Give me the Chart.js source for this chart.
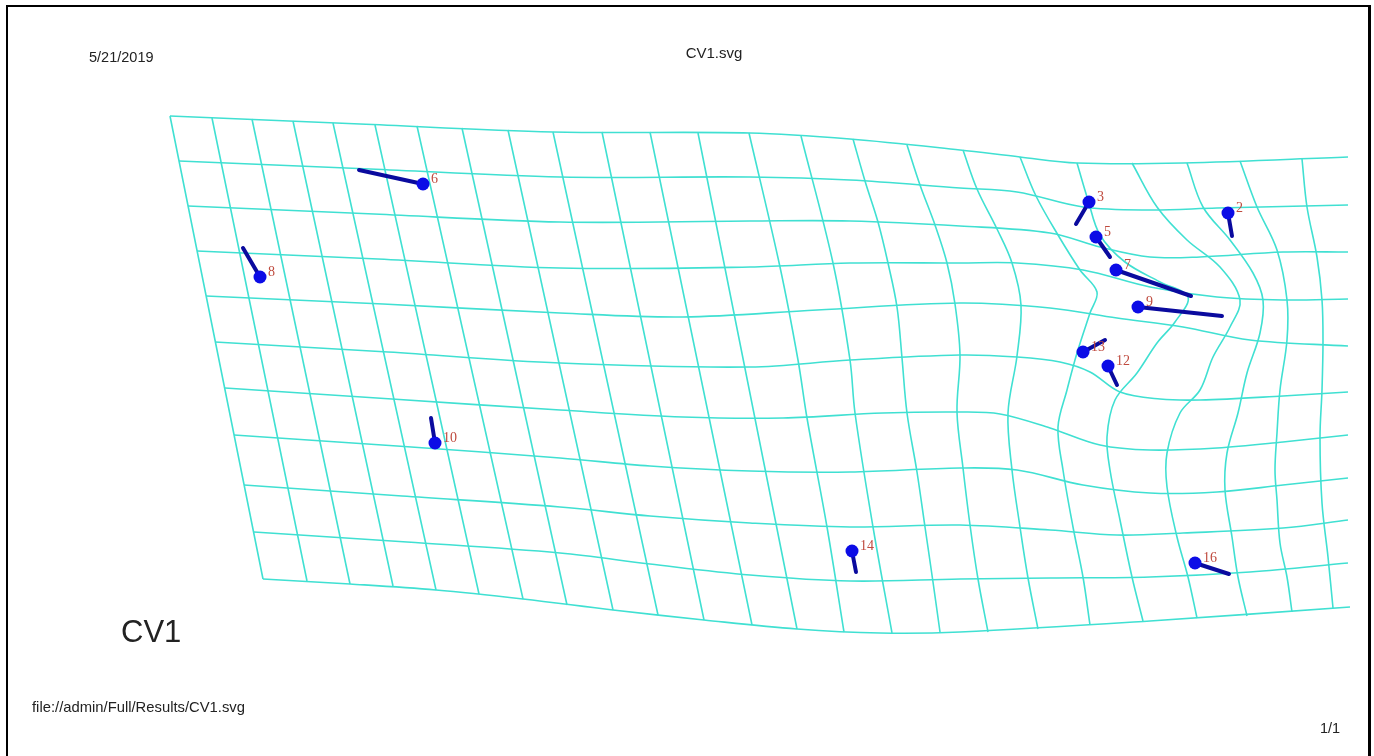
<!DOCTYPE html>
<html>
<head>
<meta charset="utf-8">
<title>CV1</title>
<script src="https://cdn.jsdelivr.net/npm/chart.js@4.4.1/dist/chart.umd.min.js"></script>
<style>
  html, body { margin: 0; padding: 0; background: #fff; overflow: hidden; }
  #page { position: absolute; left: 0; top: 0; width: 1374px; height: 756px; }
  #plot { position: absolute; left: 0; top: 0; }
  #frame {
    position: absolute; left: 6px; top: 5px; width: 1365px; height: 800px;
    border-left: 2px solid #000; border-top: 2px solid #000; border-right: 3px solid #000;
    box-sizing: border-box; pointer-events: none;
  }
  .txt {
    position: absolute; font-family: "Liberation Sans", Arial, sans-serif;
    color: #222; white-space: nowrap; line-height: 1;
  }
</style>
</head>
<body>
<div id="page">
  <canvas id="plot" width="1374" height="756"></canvas>
  <div id="frame"></div>
  <div class="txt" style="left:89px; top:50px; font-size:14.5px;">5/21/2019</div>
  <div class="txt" style="left:714px; top:45px; font-size:15px; transform:translateX(-50%);">CV1.svg</div>
  <div class="txt" style="left:121px; top:616px; font-size:31px;">CV1</div>
  <div class="txt" style="left:32px; top:700px; font-size:14.8px;">file://admin/Full/Results/CV1.svg</div>
  <div class="txt" style="left:1320px; top:721px; font-size:14.5px;">1/1</div>
</div>
<script>
// Deformation grid: horizontal lines, top to bottom, as [x, y] vertices
const gridRows = [
  [[170,116],[360,124],[553,132],[750,133],[850,139],[960,150],[1020,157],[1077,163],[1183,163],[1348,157]],
  [[179,161],[370,169],[560,177],[750,177],[850,180],[960,188],[1017,192],[1083,207],[1150,210],[1217,208],[1348,205]],
  [[188,206],[374,214],[560,222],[750,221],[850,221],[960,226],[1050,233],[1100,247],[1150,257],[1200,257],[1283,252],[1348,252]],
  [[197,251],[378,259],[560,268],[750,267],[850,263],[960,263],[1017,263],[1083,270],[1150,287],[1217,297],[1283,300],[1348,299]],
  [[206,296],[383,304],[560,313],[683,317],[817,310],[960,303],[1050,308],[1117,318],[1183,327],[1250,340],[1348,346]],
  [[215,342],[388,352],[560,363],[750,367],[850,360],[960,355],[1017,357],[1060,362],[1090,372],[1120,392],[1160,399],[1200,400],[1283,396],[1348,392]],
  [[225,388],[392,399],[560,410],[683,417],[783,418],[883,413],[960,412],[1000,414],[1050,428],[1100,445],[1150,450],[1217,448],[1283,442],[1348,435]],
  [[234,435],[397,446],[560,458],[650,466],[750,471],[850,472],[960,468],[1017,470],[1083,485],[1150,493],[1217,492],[1283,485],[1348,478]],
  [[244,485],[402,496],[560,507],[650,516],[750,523],[850,527],[960,525],[1050,530],[1117,535],[1183,533],[1283,528],[1348,520]],
  [[254,532],[407,542],[560,553],[650,564],[750,575],[850,581],[960,579],[1050,578],[1150,577],[1250,572],[1348,563]],
  [[263,579],[350,584],[436,590],[523,599],[613,610],[704,620],[797,629],[880,633],[960,632],[1150,621],[1350,607]]
];

// Deformation grid: vertical lines, left to right, as [x, y] vertices
const gridCols = [
  [[170,116],[263,579]],
  [[212,118],[307,581]],
  [[252,119],[350,584]],
  [[293,121],[393,586]],
  [[333,123],[436,590]],
  [[375,125],[479,594]],
  [[417,126],[523,599]],
  [[462,128],[567,605]],
  [[508,130],[613,610]],
  [[553,132],[658,615]],
  [[602,132],[704,620]],
  [[650,132],[752,625]],
  [[698,133],[797,629]],
  [[749,133],[780,267],[798,360],[807,418],[827,527],[844,632]],
  [[801,136],[833,263],[850,360],[855,413],[873,527],[892,633]],
  [[853,139],[865,181],[878,222],[888,263],[897,307],[902,358],[907,413],[917,472],[925,527],[933,582],[940,632]],
  [[907,145],[920,185],[935,225],[947,263],[955,304],[960,355],[957,412],[963,468],[970,525],[978,579],[988,632]],
  [[963,150],[977,189],[997,229],[1012,263],[1021,305],[1017,356],[1008,413],[1012,470],[1020,527],[1028,578],[1038,629]],
  [[1020,157],[1036,196],[1058,235],[1080,270],[1097,292],[1090,313],[1077,353],[1067,390],[1058,427],[1063,470],[1073,527],[1083,577],[1090,625]],
  [[1077,163],[1088,200],[1100,235],[1125,262],[1160,282],[1188,297],[1175,322],[1157,343],[1137,373],[1115,400],[1107,437],[1110,470],[1120,520],[1132,577],[1143,621]],
  [[1132,163],[1157,207],[1187,240],[1220,267],[1240,300],[1230,327],[1213,357],[1200,390],[1180,413],[1167,453],[1167,487],[1177,537],[1188,577],[1197,618]],
  [[1187,163],[1203,207],[1230,240],[1253,273],[1263,300],[1260,333],[1247,373],[1238,413],[1227,453],[1225,490],[1232,537],[1238,577],[1247,616]],
  [[1240,161],[1257,207],[1277,250],[1287,300],[1287,340],[1280,390],[1277,433],[1275,470],[1277,500],[1280,543],[1287,577],[1292,612]],
  [[1302,159],[1307,207],[1317,257],[1322,300],[1323,340],[1322,390],[1320,437],[1322,503],[1328,557],[1333,608]]
];

// Landmarks: id, position, and end of the displacement vector
const landmarkIds = ['2','3','5','6','7','8','9','10','12','13','14','16'];
const landmarkX   = [1228,1089,1096, 423,1116, 260,1138, 435,1108,1083, 852,1195];
const landmarkY   = [ 213, 202, 237, 184, 270, 277, 307, 443, 366, 352, 551, 563];
const vectorEndX  = [1232,1076,1110, 359,1191, 243,1222, 431,1117,1105, 856,1229];
const vectorEndY  = [ 236, 224, 257, 170, 296, 248, 316, 418, 385, 340, 572, 574];

const GRID_COLOR = 'rgb(64,224,210)';
const VECTOR_COLOR = '#0a0a9e';
const DOT_COLOR = '#0c0ce6';
const LABEL_COLOR = '#bf4a3e';

const toPoints = line => line.map(([x, y]) => ({ x, y }));

const datasets = [];

// landmark dots (drawn on top)
datasets.push({
  data: landmarkX.map((x, i) => ({ x, y: landmarkY[i] })),
  showLine: false,
  pointRadius: 6.5,
  pointHoverRadius: 6.5,
  pointBackgroundColor: DOT_COLOR,
  pointBorderWidth: 0,
  order: 0
});

// displacement vectors
landmarkX.forEach((x, i) => {
  datasets.push({
    data: [{ x, y: landmarkY[i] }, { x: vectorEndX[i], y: vectorEndY[i] }],
    showLine: true,
    borderColor: VECTOR_COLOR,
    borderWidth: 4,
    borderCapStyle: 'round',
    pointRadius: 0,
    order: 1
  });
});

// grid lines
[...gridRows, ...gridCols].forEach(line => {
  datasets.push({
    data: toPoints(line),
    showLine: true,
    borderColor: GRID_COLOR,
    borderWidth: 1.6,
    tension: 0.35,
    pointRadius: 0,
    order: 2
  });
});

const landmarkLabels = {
  id: 'landmarkLabels',
  afterDatasetsDraw(chart) {
    const { ctx, scales } = chart;
    ctx.save();
    ctx.fillStyle = LABEL_COLOR;
    ctx.font = '14px "Liberation Serif", "DejaVu Serif", serif';
    ctx.textAlign = 'left';
    ctx.textBaseline = 'middle';
    landmarkIds.forEach((id, i) => {
      const px = scales.x.getPixelForValue(landmarkX[i]);
      const py = scales.y.getPixelForValue(landmarkY[i]);
      ctx.fillText(id, px + 8, py - 5);
    });
    ctx.restore();
  }
};

new Chart(document.getElementById('plot'), {
  type: 'scatter',
  data: { datasets },
  options: {
    responsive: false,
    animation: false,
    devicePixelRatio: 1,
    layout: { padding: 0, autoPadding: false },
    plugins: { legend: { display: false }, tooltip: { enabled: false } },
    events: [],
    scales: {
      x: { type: 'linear', min: 0, max: 1374, display: false },
      y: { type: 'linear', min: 0, max: 756, reverse: true, display: false }
    },
    elements: { line: { capBezierPoints: false } }
  },
  plugins: [landmarkLabels]
});
</script>
</body>
</html>
